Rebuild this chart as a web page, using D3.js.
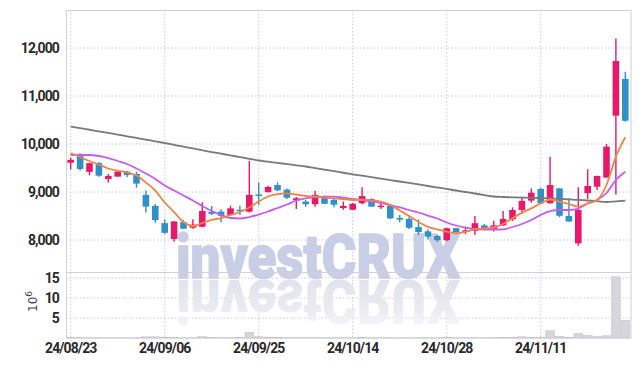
<!DOCTYPE html>
<html><head><meta charset="utf-8">
<script src="https://cdn.jsdelivr.net/npm/d3@7"></script>
<style>body{margin:0;background:#fff}svg{display:block}
.lbl{font-family:"Roboto","DejaVu Sans Condensed",sans-serif;font-weight:700;font-size:14px;letter-spacing:-0.9px;fill:#2a2a2a}
</style>
</head><body><svg id="c" width="639" height="366"></svg>
<script>
const dates = ["24/08/23","24/08/26","24/08/27","24/08/28","24/08/29","24/08/30","24/09/02","24/09/03","24/09/04","24/09/05","24/09/06","24/09/09","24/09/10","24/09/11","24/09/12","24/09/13","24/09/19","24/09/20","24/09/23","24/09/24","24/09/25","24/09/26","24/09/27","24/09/30","24/10/02","24/10/04","24/10/07","24/10/08","24/10/10","24/10/11","24/10/14","24/10/15","24/10/16","24/10/17","24/10/18","24/10/21","24/10/22","24/10/23","24/10/24","24/10/25","24/10/28","24/10/29","24/10/30","24/10/31","24/11/01","24/11/04","24/11/05","24/11/06","24/11/07","24/11/08","24/11/11","24/11/12","24/11/13","24/11/14","24/11/15","24/11/18","24/11/19","24/11/20","24/11/21","24/11/22"];
const openP  = [9610,9785,9420,9605,9270,9320,9425,9375,8940,8710,8350,8020,8375,8255,8275,8590,8590,8520,8630,8590,8950,8995,9145,9050,8825,8800,8745,8880,8835,8665,8630,8765,8855,8690,8715,8460,8440,8270,8180,8085,7995,8245,8175,8190,8305,8210,8305,8430,8625,8820,9065,8765,9075,8500,7930,8975,9110,9300,10590,11355];
const highP  = [9715,9805,9610,9625,9375,9460,9445,9425,9030,8750,8430,8395,8415,8430,8785,8710,8640,8715,8715,9645,9200,9130,9200,9075,8895,8835,9025,8925,8880,8800,8770,9100,8870,8770,8750,8520,8485,8430,8225,8105,8255,8255,8275,8500,8335,8400,8605,8680,8900,9075,9090,9735,9080,8870,9100,9475,9340,10000,12200,11505];
const lowP   = [9470,9445,9350,9320,9200,9320,9305,9090,8575,8360,8125,7965,8230,8235,8265,8520,8370,8510,8520,8575,8730,8995,9020,8855,8645,8695,8695,8745,8680,8630,8630,8745,8695,8645,8430,8370,8230,8105,8015,7965,7975,8140,8120,8105,8210,8175,8290,8395,8540,8775,8750,8760,8475,8385,7880,8855,9040,9300,8950,10465];
const closeP = [9670,9480,9600,9340,9335,9425,9355,9175,8695,8415,8150,8385,8235,8320,8605,8545,8505,8660,8605,8940,8920,9105,9035,8880,8870,8745,8940,8755,8735,8710,8755,8915,8695,8715,8450,8425,8255,8165,8070,7995,8245,8160,8200,8350,8235,8305,8440,8625,8815,8985,8765,9145,8505,8385,8625,9125,9335,9945,11730,10485];
const volumeM = [0.08,0.06,0.05,0.05,0.04,0.04,0.03,0.05,0.3,0.3,0.15,0.12,0.06,0.05,0.35,0.08,0.05,0.06,0.08,1.4,0.3,0.1,0.08,0.07,0.05,0.05,0.06,0.04,0.04,0.03,0.04,0.1,0.05,0.03,0.06,0.03,0.04,0.04,0.05,0.05,0.08,0.04,0.03,0.07,0.04,0.05,0.08,0.12,0.3,0.15,0.2,1.8,0.35,0.15,1.1,0.6,0.35,0.55,15.3,4.4];
const maShort = [9813,9729,9646,9573,9490,9442,9410,9344,9198,9031,8781,8583,8375,8292,8354,8417,8458,8521,8583,8677,8802,8906,8958,8973,8948,8917,8906,8881,8869,8854,8833,8840,8827,8798,8729,8615,8500,8375,8275,8219,8173,8140,8167,8223,8244,8265,8333,8452,8569,8660,8760,8844,8798,8750,8694,8765,8833,9146,9736,10140];
const maMid = [9771,9771,9771,9750,9708,9646,9583,9490,9385,9271,9135,9031,8927,8823,8708,8604,8521,8458,8448,8479,8531,8594,8667,8740,8823,8869,8890,8902,8902,8885,8854,8833,8802,8771,8729,8681,8625,8573,8510,8448,8365,8302,8260,8229,8219,8219,8223,8271,8333,8417,8521,8604,8625,8625,8656,8760,8833,8979,9250,9423];
const maLong = [10363,10330,10297,10264,10231,10196,10161,10126,10091,10056,10021,9983,9945,9908,9870,9833,9798,9763,9727,9692,9656,9631,9606,9581,9556,9531,9499,9466,9434,9401,9369,9339,9309,9279,9249,9219,9188,9157,9125,9094,9063,9031,9000,8969,8937,8906,8896,8889,8883,8879,8875,8866,8856,8846,8835,8823,8808,8792,8805,8819];
const priceTicks = [8000,9000,10000,11000,12000];
const volTicks = [5,10,15];
const dateTicks = ["24/08/23","24/09/06","24/09/25","24/10/14","24/10/28","24/11/11"];

const UP="#e8196b", DOWN="#3090c8";
const L=66,R=630,T=10,PB=272,VB=338;
const svg=d3.select("#c");
const x=d3.scaleBand().domain(dates).range([L,R]).paddingInner(0.3).paddingOuter(0.15);
const cx=d=>x(d)+x.bandwidth()/2;
const y=d3.scaleLinear().domain([8000,12000]).range([240,48]);
const v=d3.scaleLinear().domain([0,15]).range([VB,278]);

const defs=svg.append("defs");
defs.append("clipPath").attr("id","pc").append("rect").attr("x",L).attr("y",T).attr("width",R-L+1).attr("height",PB-T);
const gr=defs.append("linearGradient").attr("id","fade").attr("x1",0).attr("y1",0).attr("x2",0).attr("y2",1);
gr.append("stop").attr("offset",0).attr("stop-color","#ffffff");
gr.append("stop").attr("offset",0.35).attr("stop-color","#ececf2");
gr.append("stop").attr("offset",1).attr("stop-color","#dcdde9");

// grid
const g=svg.append("g");
g.selectAll(".hg").data(priceTicks).join("line").attr("x1",L).attr("x2",R+1).attr("y1",d=>y(d)).attr("y2",d=>y(d)).attr("stroke","#c4c9e0").attr("stroke-dasharray","1.5,2");
g.selectAll(".vg").data(volTicks).join("line").attr("x1",L).attr("x2",R+1).attr("y1",d=>v(d)).attr("y2",d=>v(d)).attr("stroke","#c4c9e0").attr("stroke-dasharray","1.5,2");
g.selectAll(".xg").data(dateTicks).join("line").attr("x1",d=>cx(d)).attr("x2",d=>cx(d)).attr("y1",T).attr("y2",VB).attr("stroke","#c4c9e0").attr("stroke-dasharray","1.5,2");

// watermark (with its reflection)
const wm=svg.append("g").attr("font-family","Roboto, Liberation Sans, sans-serif").attr("font-weight",900).attr("font-size",62);
wm.append("text").attr("x",176).attr("y",278).attr("textLength",284).attr("lengthAdjust","spacingAndGlyphs")
  .attr("fill","#c8cee6").attr("stroke","#c8cee6").attr("stroke-width",1.5).text("investCRUX");
wm.append("text").attr("transform","translate(0,558) scale(1,-1)").attr("x",176).attr("y",278).attr("textLength",284).attr("lengthAdjust","spacingAndGlyphs")
  .attr("fill","url(#fade)").text("investCRUX");

// borders
svg.append("rect").attr("x",L+0.5).attr("y",T+0.5).attr("width",R-L+0.5).attr("height",VB-T-0.5).attr("fill","none").attr("stroke","#cfd0d8");
svg.append("line").attr("x1",L).attr("x2",R+1).attr("y1",PB+0.5).attr("y2",PB+0.5).attr("stroke","#cfd0d8");

// volume bars
svg.append("g").selectAll("rect").data(dates).join("rect")
 .attr("x",d=>x(d)-1).attr("width",x.bandwidth()+2)
 .attr("y",(d,i)=>v(volumeM[i])).attr("height",(d,i)=>VB-v(volumeM[i]))
 .attr("fill","#d6d6dc").attr("stroke","#c2c2ca").attr("stroke-width",0.6);

// candles
const cg=svg.append("g").attr("clip-path","url(#pc)");
const cs=cg.selectAll("g").data(dates).join("g");
cs.append("line").attr("x1",d=>cx(d)).attr("x2",d=>cx(d))
 .attr("y1",(d,i)=>y(highP[i])).attr("y2",(d,i)=>y(lowP[i]))
 .attr("stroke",(d,i)=>closeP[i]>=openP[i]?UP:DOWN).attr("stroke-width",1.4);
cs.append("rect").attr("x",d=>x(d)).attr("width",x.bandwidth())
 .attr("y",(d,i)=>y(Math.max(openP[i],closeP[i])))
 .attr("height",(d,i)=>Math.max(1.5,Math.abs(y(openP[i])-y(closeP[i]))))
 .attr("fill",(d,i)=>closeP[i]>=openP[i]?UP:DOWN);

// MA lines
const line=arr=>d3.line().x((d,i)=>cx(dates[i])).y(d=>y(d)).curve(d3.curveMonotoneX)(arr);
const lg=svg.append("g").attr("clip-path","url(#pc)").attr("fill","none").attr("stroke-width",1.8);
lg.append("path").attr("d",line(maLong)).attr("stroke","#7a7a7a");
lg.append("path").attr("d",line(maMid)).attr("stroke","#c95cf0");
lg.append("path").attr("d",line(maShort)).attr("stroke","#f08548");

// axes
const ay=svg.append("g").attr("transform",`translate(${L},0)`).call(d3.axisLeft(y).tickValues(priceTicks).tickFormat(d3.format(",")).tickSize(0).tickPadding(7));
const av=svg.append("g").attr("transform",`translate(${L},0)`).call(d3.axisLeft(v).tickValues(volTicks).tickSize(0).tickPadding(7));
const ax=svg.append("g").attr("transform",`translate(0,${VB})`).call(d3.axisBottom(x).tickValues(dateTicks).tickSize(0).tickPadding(5));
[ay,av,ax].forEach(a=>{a.select(".domain").remove();a.selectAll("text").attr("class","lbl").attr("font-family",null).attr("font-size",null).attr("fill",null);});

// 10^6 label
const ex=svg.append("text").attr("transform","translate(37,312) rotate(-90)")
 .attr("font-family","DejaVu Sans, sans-serif").attr("font-size",12).attr("fill","#444");
ex.append("tspan").text("10");
ex.append("tspan").attr("dy",-5).attr("font-size",9).text("6");
</script></body></html>
